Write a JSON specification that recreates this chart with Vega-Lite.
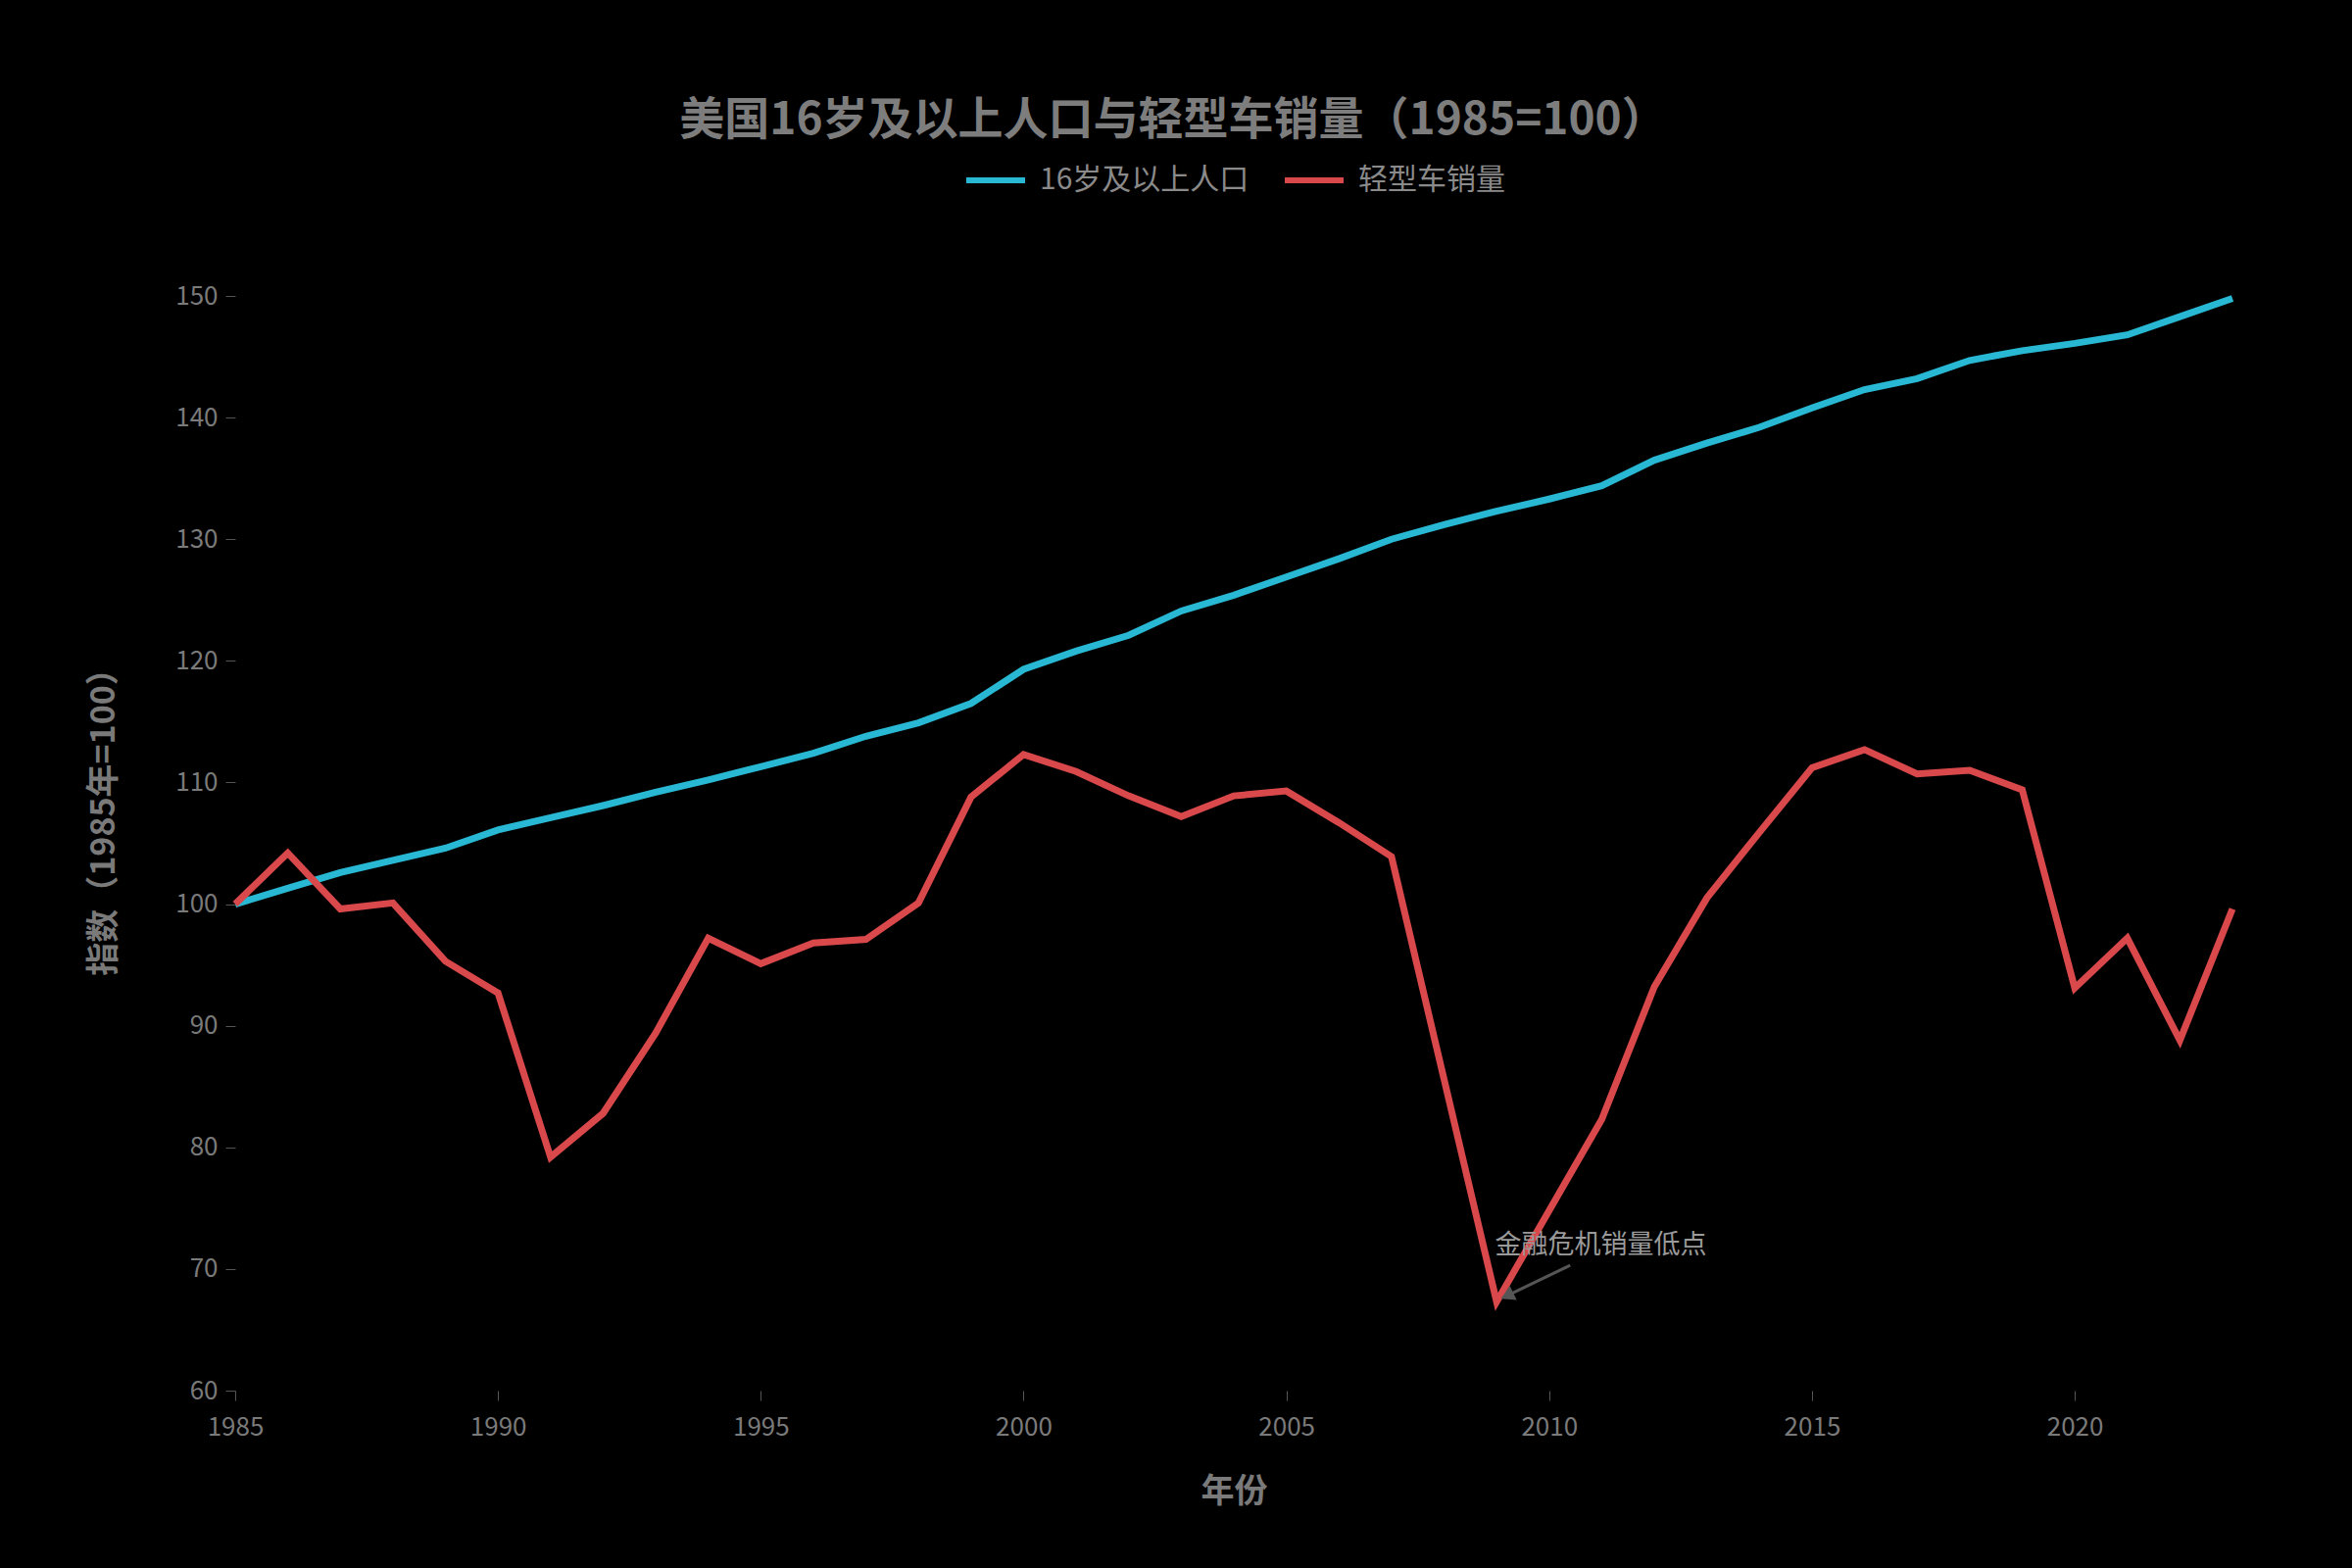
{
  "$schema": "https://vega.github.io/schema/vega-lite/v6.json",
  "background": "#000000",
  "width": 2038,
  "height": 1117,
  "autosize": {"type": "none"},
  "padding": {"left": 240, "top": 302, "right": 122, "bottom": 181},
  "title": {
    "text": "美国16岁及以上人口与轻型车销量（1985=100）",
    "font": "Noto Sans CJK SC",
    "fontSize": 46,
    "fontWeight": "bold",
    "color": "#7d7d7d",
    "anchor": "middle",
    "dx": -62,
    "offset": 4
  },
  "config": {
    "view": {"stroke": null},
    "font": "Noto Sans CJK SC",
    "axis": {
      "domain": false,
      "grid": false,
      "tickColor": "#555555",
      "tickSize": 10,
      "labelColor": "#7a7a7a",
      "labelFontSize": 26,
      "labelFont": "Noto Sans CJK SC",
      "titleColor": "#7a7a7a",
      "titleFontSize": 34,
      "titleFontWeight": "bold",
      "titleFont": "Noto Sans CJK SC"
    },
    "legend": {
      "labelColor": "#8a8a8a",
      "labelFontSize": 30,
      "labelFont": "Noto Sans CJK SC",
      "labelLimit": 0,
      "layout": {"top": {"anchor": "middle"}}
    }
  },
  "data": {
    "values": [
      {"year": 1985, "series": "16岁及以上人口", "value": 100.0},
      {"year": 1986, "series": "16岁及以上人口", "value": 101.3},
      {"year": 1987, "series": "16岁及以上人口", "value": 102.6},
      {"year": 1988, "series": "16岁及以上人口", "value": 103.6},
      {"year": 1989, "series": "16岁及以上人口", "value": 104.6},
      {"year": 1990, "series": "16岁及以上人口", "value": 106.1},
      {"year": 1991, "series": "16岁及以上人口", "value": 107.1},
      {"year": 1992, "series": "16岁及以上人口", "value": 108.1},
      {"year": 1993, "series": "16岁及以上人口", "value": 109.2},
      {"year": 1994, "series": "16岁及以上人口", "value": 110.2},
      {"year": 1995, "series": "16岁及以上人口", "value": 111.3},
      {"year": 1996, "series": "16岁及以上人口", "value": 112.4},
      {"year": 1997, "series": "16岁及以上人口", "value": 113.8},
      {"year": 1998, "series": "16岁及以上人口", "value": 114.9},
      {"year": 1999, "series": "16岁及以上人口", "value": 116.5},
      {"year": 2000, "series": "16岁及以上人口", "value": 119.3},
      {"year": 2001, "series": "16岁及以上人口", "value": 120.8},
      {"year": 2002, "series": "16岁及以上人口", "value": 122.1},
      {"year": 2003, "series": "16岁及以上人口", "value": 124.1},
      {"year": 2004, "series": "16岁及以上人口", "value": 125.4},
      {"year": 2005, "series": "16岁及以上人口", "value": 126.9},
      {"year": 2006, "series": "16岁及以上人口", "value": 128.4},
      {"year": 2007, "series": "16岁及以上人口", "value": 130.0},
      {"year": 2008, "series": "16岁及以上人口", "value": 131.2},
      {"year": 2009, "series": "16岁及以上人口", "value": 132.3},
      {"year": 2010, "series": "16岁及以上人口", "value": 133.3},
      {"year": 2011, "series": "16岁及以上人口", "value": 134.4},
      {"year": 2012, "series": "16岁及以上人口", "value": 136.5},
      {"year": 2013, "series": "16岁及以上人口", "value": 137.9},
      {"year": 2014, "series": "16岁及以上人口", "value": 139.2},
      {"year": 2015, "series": "16岁及以上人口", "value": 140.8},
      {"year": 2016, "series": "16岁及以上人口", "value": 142.3},
      {"year": 2017, "series": "16岁及以上人口", "value": 143.2},
      {"year": 2018, "series": "16岁及以上人口", "value": 144.7},
      {"year": 2019, "series": "16岁及以上人口", "value": 145.5},
      {"year": 2020, "series": "16岁及以上人口", "value": 146.1},
      {"year": 2021, "series": "16岁及以上人口", "value": 146.8},
      {"year": 2022, "series": "16岁及以上人口", "value": 148.3},
      {"year": 2023, "series": "16岁及以上人口", "value": 149.8},
      {"year": 1985, "series": "轻型车销量", "value": 100.0},
      {"year": 1986, "series": "轻型车销量", "value": 104.2},
      {"year": 1987, "series": "轻型车销量", "value": 99.6},
      {"year": 1988, "series": "轻型车销量", "value": 100.1},
      {"year": 1989, "series": "轻型车销量", "value": 95.3},
      {"year": 1990, "series": "轻型车销量", "value": 92.7},
      {"year": 1991, "series": "轻型车销量", "value": 79.2},
      {"year": 1992, "series": "轻型车销量", "value": 82.8},
      {"year": 1993, "series": "轻型车销量", "value": 89.4},
      {"year": 1994, "series": "轻型车销量", "value": 97.2},
      {"year": 1995, "series": "轻型车销量", "value": 95.1},
      {"year": 1996, "series": "轻型车销量", "value": 96.8},
      {"year": 1997, "series": "轻型车销量", "value": 97.1},
      {"year": 1998, "series": "轻型车销量", "value": 100.1},
      {"year": 1999, "series": "轻型车销量", "value": 108.8},
      {"year": 2000, "series": "轻型车销量", "value": 112.3},
      {"year": 2001, "series": "轻型车销量", "value": 110.9},
      {"year": 2002, "series": "轻型车销量", "value": 108.9},
      {"year": 2003, "series": "轻型车销量", "value": 107.2},
      {"year": 2004, "series": "轻型车销量", "value": 108.9},
      {"year": 2005, "series": "轻型车销量", "value": 109.3},
      {"year": 2006, "series": "轻型车销量", "value": 106.7},
      {"year": 2007, "series": "轻型车销量", "value": 103.9},
      {"year": 2008, "series": "轻型车销量", "value": 85.6},
      {"year": 2009, "series": "轻型车销量", "value": 67.3},
      {"year": 2010, "series": "轻型车销量", "value": 74.8},
      {"year": 2011, "series": "轻型车销量", "value": 82.3},
      {"year": 2012, "series": "轻型车销量", "value": 93.2},
      {"year": 2013, "series": "轻型车销量", "value": 100.5},
      {"year": 2014, "series": "轻型车销量", "value": 105.9},
      {"year": 2015, "series": "轻型车销量", "value": 111.2},
      {"year": 2016, "series": "轻型车销量", "value": 112.7},
      {"year": 2017, "series": "轻型车销量", "value": 110.7},
      {"year": 2018, "series": "轻型车销量", "value": 111.0},
      {"year": 2019, "series": "轻型车销量", "value": 109.4},
      {"year": 2020, "series": "轻型车销量", "value": 93.1},
      {"year": 2021, "series": "轻型车销量", "value": 97.2},
      {"year": 2022, "series": "轻型车销量", "value": 88.8},
      {"year": 2023, "series": "轻型车销量", "value": 99.6}
    ]
  },
  "layer": [
    {
      "mark": {"type": "line", "strokeWidth": 7, "strokeJoin": "miter"},
      "encoding": {
        "x": {
          "field": "year",
          "type": "quantitative",
          "title": "年份",
          "scale": {"domain": [1985, 2023], "nice": false},
          "axis": {
            "values": [1985, 1990, 1995, 2000, 2005, 2010, 2015, 2020],
            "format": "d",
            "labelFlush": false,
            "labelPadding": 14,
            "titlePadding": 36
          }
        },
        "y": {
          "field": "value",
          "type": "quantitative",
          "title": "指数（1985年=100）",
          "scale": {"domain": [60, 150], "nice": false, "zero": false},
          "axis": {
            "values": [60, 70, 80, 90, 100, 110, 120, 130, 140, 150],
            "labelPadding": 8,
            "titlePadding": 55,
            "titleY": 528
          }
        },
        "color": {
          "field": "series",
          "type": "nominal",
          "scale": {
            "domain": ["16岁及以上人口", "轻型车销量"],
            "range": ["#29b8d3", "#d9484b"]
          },
          "legend": {
            "title": null,
            "orient": "top",
            "direction": "horizontal",
            "symbolType": "stroke",
            "symbolStrokeWidth": 6,
            "symbolSize": 3600,
            "labelOffset": 12,
            "columnPadding": 24,
            "offset": 91
          }
        }
      }
    },
    {
      "data": {"values": [{"x": 2010.4, "y": 70.3, "x2": 2009.15, "y2": 67.7}]},
      "mark": {"type": "rule", "color": "#555555", "strokeWidth": 3},
      "encoding": {
        "x": {"field": "x", "type": "quantitative"},
        "y": {"field": "y", "type": "quantitative"},
        "x2": {"field": "x2"},
        "y2": {"field": "y2"}
      }
    },
    {
      "data": {"values": [{"x": 2009.2, "y": 67.8}]},
      "mark": {"type": "point", "shape": "triangle-up", "filled": true, "color": "#555555", "opacity": 1, "size": 260, "angle": 244},
      "encoding": {
        "x": {"field": "x", "type": "quantitative"},
        "y": {"field": "y", "type": "quantitative"}
      }
    },
    {
      "data": {"values": [{"x": 2008.97, "y": 71.9, "label": "金融危机销量低点"}]},
      "mark": {"type": "text", "align": "left", "baseline": "middle", "fontSize": 27, "color": "#9a9a9a", "font": "Noto Sans CJK SC"},
      "encoding": {
        "x": {"field": "x", "type": "quantitative"},
        "y": {"field": "y", "type": "quantitative"},
        "text": {"field": "label"}
      }
    }
  ]
}
